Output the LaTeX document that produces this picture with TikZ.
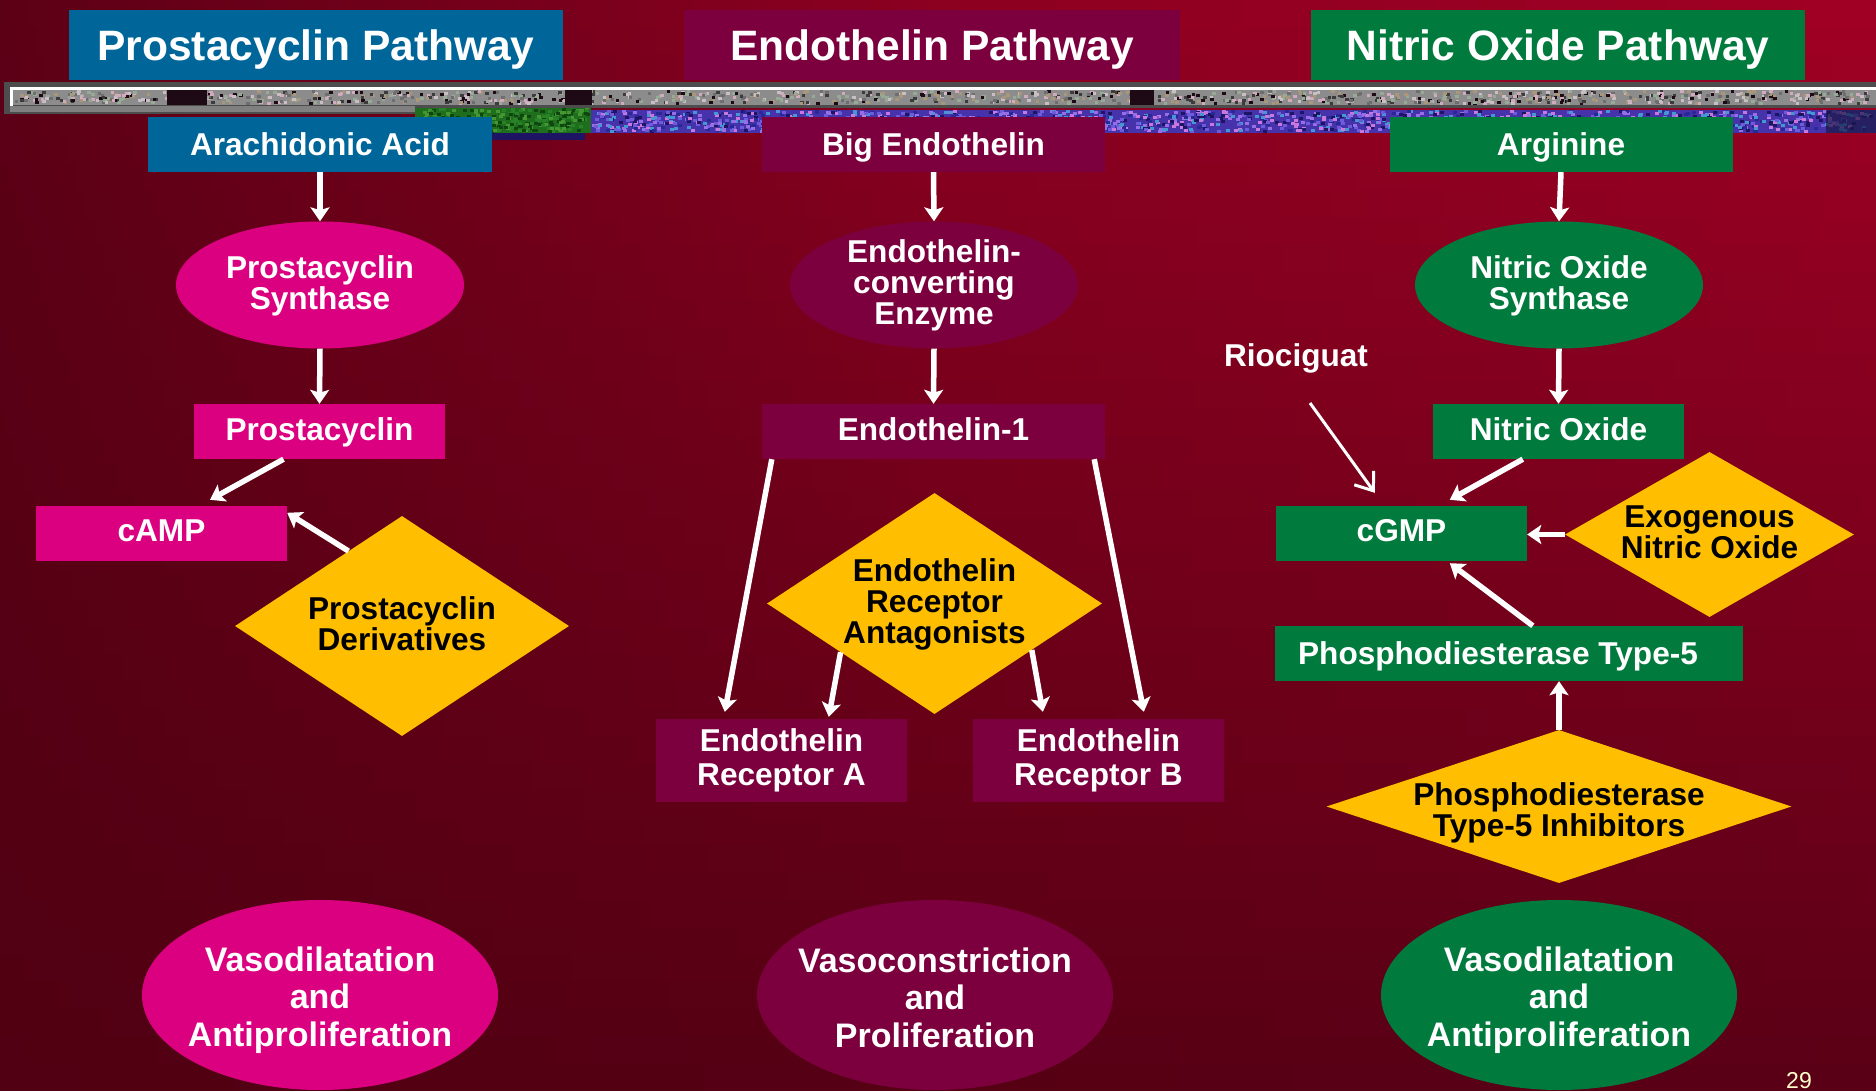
\documentclass[tikz,border=0pt]{standalone}
\usepackage{fontspec}
\setmainfont{Liberation Sans}
\usetikzlibrary{arrows.meta,calc,shapes.geometric}
\definecolor{cBlue}{HTML}{006699}
\definecolor{cMagenta}{HTML}{DB007F}
\definecolor{cMaroon}{HTML}{7C003E}
\definecolor{cGreen}{HTML}{007A3D}
\definecolor{cYellow}{HTML}{FFBF00}
\definecolor{cCream}{HTML}{FFFFCC}
\definecolor{bgTL}{RGB}{92,0,22}
\definecolor{bgTM}{RGB}{140,0,32}
\definecolor{bgTR}{RGB}{160,0,36}
\definecolor{bgBL}{RGB}{80,0,18}
\definecolor{bgBM}{RGB}{86,0,20}
\definecolor{bgBR}{RGB}{90,0,22}
\definecolor{frameGray}{RGB}{77,77,77}
\definecolor{lightGray}{RGB}{128,128,128}
\definecolor{bandGray}{RGB}{140,140,140}
\definecolor{ncA}{RGB}{200,190,195}
\definecolor{ncB}{RGB}{60,60,60}
\definecolor{ncC}{RGB}{170,150,120}
\definecolor{ncD}{RGB}{210,170,190}
\definecolor{ncE}{RGB}{110,110,110}
\definecolor{ncF}{RGB}{30,10,20}
\definecolor{ncG}{RGB}{150,170,150}
\definecolor{gnA}{RGB}{15,70,15}
\definecolor{gnB}{RGB}{70,150,50}
\definecolor{gnC}{RGB}{40,130,40}
\definecolor{gnBase}{RGB}{30,110,30}
\definecolor{bnBase}{RGB}{70,50,170}
\definecolor{bnA}{RGB}{110,90,220}
\definecolor{bnB}{RGB}{40,40,150}
\definecolor{bnC}{RGB}{150,110,230}
\definecolor{bnD}{RGB}{70,150,210}
\definecolor{bnE}{RGB}{30,20,100}
\definecolor{bnF}{RGB}{200,120,220}
\definecolor{navy}{RGB}{25,25,70}
\begin{document}
\begin{tikzpicture}[x=1pt,y=-1pt,
  txt/.style={text=white, font=\bfseries\fontsize{31.6}{31}\selectfont, align=center, inner sep=0pt},
  box/.style={rectangle, inner sep=0pt, minimum height=55pt, text=white, font=\bfseries\fontsize{31.6}{34}\selectfont, align=center},
  one/.style={text height=23pt, text depth=0pt},
  hdr/.style={box, minimum height=70pt, font=\bfseries\fontsize{42.5}{44}\selectfont, text height=31pt, text depth=0pt},
  blob/.style={ellipse, inner sep=0pt, minimum width=288pt, minimum height=127pt},
  bigblob/.style={ellipse, inner sep=0pt, minimum width=356pt, minimum height=190pt},
  dia/.style={diamond, inner sep=0pt, fill=cYellow},
  dtxt/.style={txt, text=black},
  btxt/.style={txt, font=\bfseries\fontsize{34}{37.5}\selectfont},
  arr/.style={draw=white, line width=5.5pt, -{Stealth[length=14pt,width=19pt,inset=3pt]}},
  thinarr/.style={draw=white, line width=3pt, -{Straight Barb[length=16pt,width=24pt]}},
]
\useasboundingbox (0,0) rectangle (1876,1091);
% background gradient
\foreach \i in {0,...,39}{
  \pgfmathsetmacro\bgmix{\i*100/39}
  \pgfmathsetmacro\ya{\i*27.275}
  \pgfmathsetmacro\yb{(\i+1)*27.275+0.8}
  \shade[left color=bgBL!\bgmix!bgTL, right color=bgBR!\bgmix!bgTR, middle color=bgBM!\bgmix!bgTM] (0,\ya) rectangle (1876,\yb);
}
% textured bar
\fill[frameGray] (4,82) rectangle (1876,108);
\fill[frameGray] (4,108) rectangle (415,114);
\fill[lightGray] (10,106) rectangle (415,112);
\fill[white] (10,87) rectangle (1876,90);
\fill[white] (10,87) rectangle (13,106);
\fill[bandGray] (13,90) rectangle (1876,105);
\pgfmathsetseed{12}
\pgfmathdeclarerandomlist{graynoise}{{ncA}{ncB}{ncC}{ncD}{ncE}{ncF}{ncG}}
\foreach \k in {1,...,1100}{
  \pgfmathsetmacro\nx{13+rnd*1858}
  \pgfmathsetmacro\ny{90+rnd*12}
  \pgfmathrandomitem{\nc}{graynoise}
  \fill[fill=\nc] (\nx,\ny) rectangle ++(3.5,3);
}
\fill[ncF] (167,90) rectangle (207,105);
\fill[ncF] (565,90) rectangle (592,105);
\fill[ncF] (1130,90) rectangle (1154,105);
% green noise
\fill[gnBase] (415,108) rectangle (591,133);
\fill[bnE] (491,133) rectangle (585,140);
\pgfmathdeclarerandomlist{greennoise}{{gnA}{gnB}{gnC}}
\foreach \k in {1,...,260}{
  \pgfmathsetmacro\nx{415+rnd*172}
  \pgfmathsetmacro\ny{108+rnd*22}
  \pgfmathrandomitem{\nc}{greennoise}
  \fill[fill=\nc] (\nx,\ny) rectangle ++(4,3);
}
% blue noise
\fill[bnBase] (591,110) rectangle (1876,133);
\pgfmathdeclarerandomlist{bluenoise}{{bnA}{bnB}{bnC}{bnD}{bnE}{bnF}}
\foreach \k in {1,...,1400}{
  \pgfmathsetmacro\nx{591+rnd*1281}
  \pgfmathsetmacro\ny{110+rnd*20}
  \pgfmathrandomitem{\nc}{bluenoise}
  \fill[fill=\nc] (\nx,\ny) rectangle ++(4,3);
}
\fill[navy, opacity=0.7] (1826,110) rectangle (1876,133);

% headers
\node[hdr, fill=cBlue, minimum width=494pt] (h1) at (316,45) {Prostacyclin Pathway};
\node[hdr, fill=cMaroon, minimum width=496pt] (h2) at (932,45) {Endothelin Pathway};
\node[hdr, fill=cGreen, minimum width=494pt] (h3) at (1558,45) {Nitric Oxide Pathway};

% row 2
\node[box, one, fill=cBlue, minimum width=344pt] (aa) at (320,144.5) {Arachidonic Acid};
\node[box, one, fill=cMaroon, minimum width=343pt] (be) at (933.5,144.5) {Big Endothelin};
\node[box, one, fill=cGreen, minimum width=343pt] (arg) at (1561,144.5) {Arginine};

% enzymes
\node[blob, fill=cMagenta] (ps) at (320,285) {};
\node[txt] (pst) at (320,285.4) {Prostacyclin\\Synthase};
\node[blob, fill=cMaroon] (ece) at (934,285) {};
\node[txt] (ecet) at (934,285.6) {Endothelin-\\converting\\Enzyme};
\node[blob, fill=cGreen] (nos) at (1559,285) {};
\node[txt] (nost) at (1559,285.4) {Nitric Oxide\\Synthase};

% row 3
\node[box, one, text depth=4.8pt, fill=cMagenta, minimum width=251pt] (pc) at (319.5,431.5) {Prostacyclin};
\node[box, one, text depth=4.8pt, fill=cMaroon, minimum width=343pt] (e1) at (933.5,431.5) {Endothelin-1};
\node[box, one, text depth=4.8pt, fill=cGreen, minimum width=251pt] (no) at (1558.5,431.5) {Nitric Oxide};
\node[txt, one] (rio) at (1296,355) {Riociguat};

\node[box, one, text depth=7.2pt, fill=cMagenta, minimum width=251pt] (camp) at (161.5,533.5) {cAMP};
\node[box, one, text depth=7.2pt, fill=cGreen, minimum width=251pt] (cgmp) at (1401.5,533.5) {cGMP};
\node[box, fill=cGreen, minimum width=468pt] (pde) at (1509,653.5) {};
\node[txt, one] (pdet) at (1498,652.5) {Phosphodiesterase Type-5};

\node[box, fill=cMaroon, minimum width=251pt, minimum height=83pt] (ra) at (781.5,760.5) {Endothelin\\Receptor A};
\node[box, fill=cMaroon, minimum width=251pt, minimum height=83pt] (rb) at (1098.5,760.5) {Endothelin\\Receptor B};

% diamonds
\node[dia, minimum width=334pt, minimum height=220pt] (pd) at (402,626) {};
\node[dtxt] (pdt) at (402,623.5) {Prostacyclin\\Derivatives};
\node[dia, minimum width=335pt, minimum height=221pt] (era) at (934.5,603.5) {};
\node[dtxt] (erat) at (934.5,604.6) {Endothelin\\Receptor\\Antagonists};
\node[dia, minimum width=289pt, minimum height=165pt] (exo) at (1709.5,534.5) {};
\node[dtxt] (exot) at (1709.5,532.7) {Exogenous\\Nitric Oxide};
\node[dia, minimum width=465pt, minimum height=153pt] (pdei) at (1559,806.5) {};
\node[dtxt] (pdeit) at (1559,812.6) {Phosphodiesterase\\Type-5 Inhibitors};

% outcomes
\node[bigblob, fill=cMagenta] (v1) at (320,995) {};
\node[btxt] (v1t) at (320,999.8) {Vasodilatation\\and\\Antiproliferation};
\node[bigblob, fill=cMaroon] (v2) at (935,995) {};
\node[btxt] (v2t) at (935,997.4) {Vasoconstriction\\and\\Proliferation};
\node[bigblob, fill=cGreen] (v3) at (1559,995) {};
\node[btxt] (v3t) at (1559,999.8) {Vasodilatation\\and\\Antiproliferation};

\node[anchor=base, inner sep=0pt, text=cCream, font=\fontsize{23}{23}\selectfont] (pgno) at (1799,1088.5) {29};

% connectors: prostacyclin
\draw[arr] (aa.south) -- (ps.north);
\draw[arr] (ps.south) -- (pc.north);
\draw[arr] ($(pc.south)+(-36,0)$) -- ($(camp.north)+(48.5,-6)$);
\draw[arr] ($(pd.west)!0.68!(pd.north)$) -- ($(camp.north east)+(0,7)$);
% endothelin
\draw[arr] (be.south) -- (ece.north);
\draw[arr] (ece.south) -- (e1.north);
\draw[arr] ($(e1.south west)+(10,0)$) -- ($(ra.north west)+(69,-7)$);
\draw[arr] ($(e1.south east)+(-11,0)$) -- ($(rb.north west)+(171,-7)$);
\draw[arr] ($(era.west)!0.44!(era.south)$) -- ($(ra.north west)+(173,-2)$);
\draw[arr] ($(era.east)!0.42!(era.south)$) -- ($(rb.north west)+(70,-7)$);
% nitric oxide
\draw[arr] (arg.south) -- (nos.north);
\draw[arr] (nos.south) -- (no.north);
\draw[arr] ($(no.south west)+(90,0)$) -- ($(cgmp.north west)+(174,-6)$);
\draw[thinarr] ($(rio.center)+(14,48)$) -- ($(cgmp.north west)+(99,-13)$);
\draw[arr] (exo.west) -- (exo.west -| cgmp.east);
\draw[arr] ($(pde.north west)+(258,0)$) -- ($(cgmp.south west)+(174,2)$);
\draw[arr] (pdei.north) -- (pdei.north |- pde.south);
\end{tikzpicture}
\end{document}
